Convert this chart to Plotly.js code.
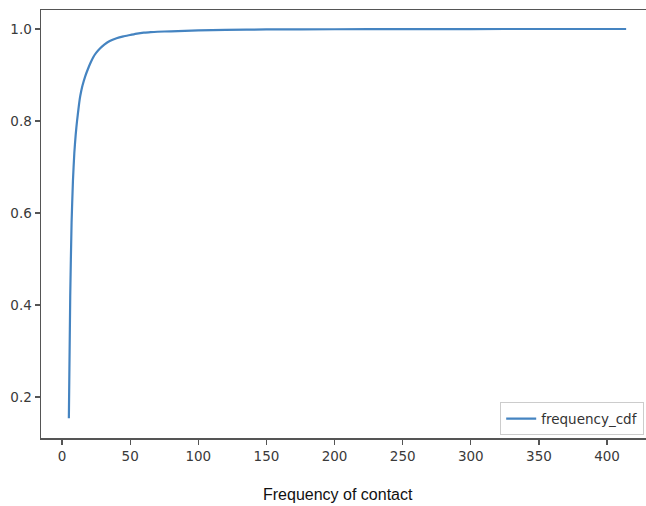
<!DOCTYPE html>
<html>
<head>
<meta charset="utf-8">
<script src="https://cdn.plot.ly/plotly-3.0.1.min.js"></script>
<style>
html, body { margin: 0; padding: 0; overflow: hidden; background: #fff; width: 646px; height: 506px; }
#chart { width: 660px; height: 506px; }
</style>
</head>
<body>
<div id="chart"></div>
<script>
// Frequency of contact (x) vs cumulative share (y)
const frequency = [5, 6, 7, 8, 9, 10, 11, 12, 13, 14, 15, 17, 19, 21, 23, 25, 28, 31, 35, 40, 45, 50, 55, 60, 65, 70, 80, 90, 100, 120, 150, 200, 250, 300, 350, 414];
const frequencyCdf = [0.154, 0.42, 0.58, 0.67, 0.73, 0.77, 0.80, 0.825, 0.848, 0.864, 0.877, 0.897, 0.913, 0.927, 0.939, 0.948, 0.958, 0.966, 0.974, 0.980, 0.984, 0.987, 0.990, 0.992, 0.993, 0.994, 0.995, 0.996, 0.997, 0.998, 0.999, 0.9995, 0.9998, 0.9999, 1.0, 1.0];
const seriesName = 'frequency_cdf';
const xTitle = 'Frequency of contact';
const xTicks = [0, 50, 100, 150, 200, 250, 300, 350, 400];
const yTicks = [0.2, 0.4, 0.6, 0.8, 1.0];
const yTickText = ['0.2', '0.4', '0.6', '0.8', '1.0'];

const trace = {
  x: frequency,
  y: frequencyCdf,
  type: 'scatter',
  mode: 'lines',
  name: seriesName,
  line: { color: '#4584c1', width: 2.2, shape: 'spline', smoothing: 0.5 },
  showlegend: true
};

const tickFont = { family: 'DejaVu Sans', size: 13.5, color: '#3a3a3a' };

const layout = {
  width: 660,
  height: 506,
  margin: { l: 41, r: 6, t: 10, b: 68 },
  paper_bgcolor: '#fff',
  plot_bgcolor: '#fff',
  showlegend: true,
  xaxis: {
    range: [-15.45, 434.45],
    tickvals: xTicks,
    ticktext: xTicks.map(String),
    ticks: 'outside',
    ticklen: 5,
    tickwidth: 1.2,
    tickcolor: '#555',
    showgrid: false,
    zeroline: false,
    showline: true,
    linecolor: '#555',
    linewidth: 1.5,
    mirror: true,
    tickfont: tickFont
  },
  yaxis: {
    range: [0.1109, 1.0413],
    tickvals: yTicks,
    ticktext: yTickText,
    ticks: 'outside',
    ticklen: 5,
    tickwidth: 1.2,
    tickcolor: '#555',
    showgrid: false,
    zeroline: false,
    showline: true,
    linecolor: '#555',
    linewidth: 1.5,
    mirror: true,
    tickfont: tickFont
  },
  annotations: [{
    text: xTitle,
    xref: 'paper',
    yref: 'paper',
    x: 0.485,
    y: -0.133,
    xanchor: 'center',
    yanchor: 'middle',
    showarrow: false,
    font: { family: 'Liberation Sans', size: 16, color: '#111' }
  }],
  legend: {
    x: 0.984,
    y: 0.006,
    xanchor: 'right',
    yanchor: 'bottom',
    bgcolor: '#fff',
    bordercolor: '#ccc',
    borderwidth: 1,
    font: { family: 'DejaVu Sans', size: 13.5, color: '#333' }
  }
};

Plotly.newPlot('chart', [trace], layout, { displayModeBar: false, staticPlot: true });
</script>
</body>
</html>
